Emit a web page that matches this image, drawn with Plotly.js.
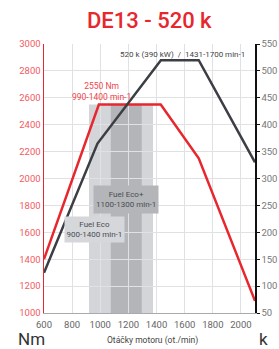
<!DOCTYPE html>
<html>
<head>
<meta charset="utf-8">
<script src="https://cdn.plot.ly/plotly-3.0.1.min.js"></script>
<style>html,body{margin:0;padding:0;background:#fff;}#chart{width:279px;height:349px;}</style>
</head>
<body>
<div id="chart"></div>
<script>
// Data
const rpmTorque = [600, 990, 1430, 1700, 2100];
const torqueNm  = [1400, 2550, 2550, 2150, 1090];
const rpmPower  = [600, 980, 1431, 1700, 2100];
const powerK    = [125, 365, 520, 520, 330];
const fuelEcoRange     = [920, 1375];
const fuelEcoPlusRange = [1075, 1295];
const shadeTop = 2550;
const xTicks = [600, 800, 1000, 1200, 1400, 1600, 1800, 2000];
const yLeftTicks = [1000, 1200, 1400, 1600, 1800, 2000, 2200, 2400, 2600, 2800, 3000];
const yRightTicks = [50, 100, 150, 200, 250, 300, 350, 400, 450, 500, 550];

const RED = '#e8262d';
const DARK = '#3b3e43';
const FONT = 'Roboto, sans-serif';

const traces = [
  {x: rpmTorque, y: torqueNm, type: 'scatter', mode: 'lines', name: 'Nm',
   line: {color: RED, width: 2.5}, xaxis: 'x', yaxis: 'y', hoverinfo: 'skip'},
  {x: rpmPower, y: powerK, type: 'scatter', mode: 'lines', name: 'k',
   line: {color: DARK, width: 2.5}, xaxis: 'x', yaxis: 'y2', hoverinfo: 'skip'}
];

const shapes = [
  {type: 'rect', xref: 'x', yref: 'y', x0: fuelEcoRange[0], x1: fuelEcoRange[1], y0: 1000, y1: shadeTop,
   fillcolor: '#d3d5d9', line: {width: 0}, layer: 'below'},
  {type: 'rect', xref: 'x', yref: 'y', x0: fuelEcoPlusRange[0], x1: fuelEcoPlusRange[1], y0: 1000, y1: shadeTop,
   fillcolor: '#b3b5b9', line: {width: 0}, layer: 'below'}
];

const annotations = [
  {xref: 'x', yref: 'y', x: 1582, y: 2925, text: '520 k (390 kW)  /  1431-1700 min-1', showarrow: false,
   xanchor: 'center', yanchor: 'middle', font: {family: FONT, size: 8, color: '#444'}},
  {xref: 'x', yref: 'y', x: 1006, y: 2650, text: '2550 Nm<br>990-1400 min-1', showarrow: false,
   xanchor: 'center', yanchor: 'middle', font: {family: FONT, size: 8.5, color: '#f0444a'}},
  {xref: 'x', yref: 'y', x: 1184, y: 1844, text: 'Fuel Eco+<br>1100-1300 min-1', showarrow: false,
   xanchor: 'center', yanchor: 'middle',
   font: {family: FONT, size: 8, color: '#4a4d52'}, bgcolor: '#b3b5b9', height: 23, borderpad: 2},
  {xref: 'x', yref: 'y', x: 958, y: 1621, text: 'Fuel Eco<br>900-1400 min-1', showarrow: false,
   xanchor: 'center', yanchor: 'middle',
   font: {family: FONT, size: 8, color: '#4a4d52'}, bgcolor: '#d5d7db', height: 22, borderpad: 1.5},
  {xref: 'paper', yref: 'paper', x: -0.057, y: -0.097, text: 'Nm', showarrow: false,
   xanchor: 'center', yanchor: 'middle', font: {family: FONT, size: 17, color: '#333'}},
  {xref: 'paper', yref: 'paper', x: 1.038, y: -0.097, text: 'k', showarrow: false,
   xanchor: 'center', yanchor: 'middle', font: {family: FONT, size: 17, color: '#333'}},
  {xref: 'paper', yref: 'paper', x: 0.512, y: -0.104, text: 'Otáčky motoru (ot./min)', showarrow: false,
   xanchor: 'center', yanchor: 'middle', font: {family: FONT, size: 8.5, color: '#444'}}
];

const layout = {
  width: 279, height: 349,
  margin: {l: 44, r: 24, t: 44, b: 36},
  paper_bgcolor: '#fff', plot_bgcolor: '#fff',
  showlegend: false,
  title: {text: 'DE13 - 520 k', x: 0.535, xanchor: 'center', y: 0.943, yanchor: 'middle',
          font: {family: FONT, size: 22, color: RED, weight: 500}},
  xaxis: {range: [600, 2100], tickvals: xTicks, ticktext: xTicks.map(String),
          showgrid: true, gridcolor: '#dfe1e5', gridwidth: 1, zeroline: false,
          showline: true, linecolor: '#a8aaad', linewidth: 1, ticks: '', ticklabelstandoff: 3,
          tickfont: {family: FONT, size: 9.5, color: '#666'}, fixedrange: true},
  yaxis: {range: [1000, 3000], tickvals: yLeftTicks, ticktext: yLeftTicks.map(String),
          showgrid: true, gridcolor: '#dfe1e5', gridwidth: 1, zeroline: false,
          showline: true, linecolor: RED, linewidth: 1.5, ticks: '',
          tickfont: {family: FONT, size: 9.5, color: '#f25a5f'}, fixedrange: true},
  yaxis2: {range: [50, 550], tickvals: yRightTicks, ticktext: yRightTicks.map(String),
           overlaying: 'y', side: 'right', showgrid: false, zeroline: false,
           showline: true, linecolor: '#111', linewidth: 1.5, ticks: 'outside', ticklen: 3, tickcolor: '#111',
           tickfont: {family: FONT, size: 9.5, color: '#777'}, fixedrange: true},
  shapes: shapes,
  annotations: annotations
};

Plotly.newPlot('chart', traces, layout, {staticPlot: true, displayModeBar: false});
</script>
</body>
</html>
